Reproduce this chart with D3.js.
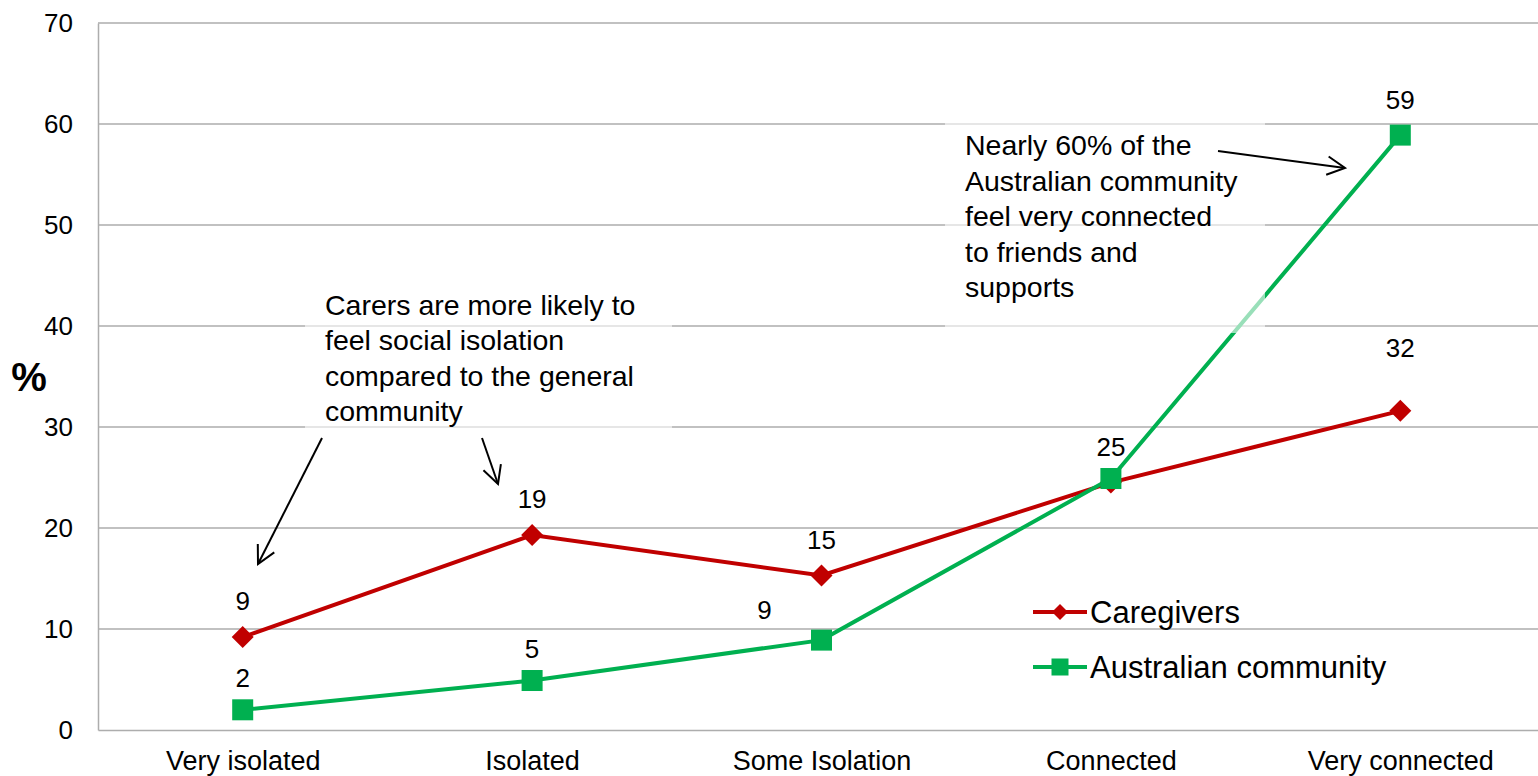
<!DOCTYPE html>
<html>
<head>
<meta charset="utf-8">
<script src="https://cdn.jsdelivr.net/npm/d3@7/dist/d3.min.js"></script>
<style>
  html, body { margin: 0; padding: 0; background: #fff; }
  svg { display: block; font-family: "Liberation Sans", Arial, sans-serif; }
</style>
</head>
<body>
<svg id="chart" width="1538" height="776"></svg>
<script>
// ---- data ----
const categories = ["Very isolated", "Isolated", "Some Isolation", "Connected", "Very connected"];
const caregivers = [9.2, 19.3, 15.3, 24.5, 31.6];
const australian = [2.0, 4.9, 8.9, 24.9, 58.9];
const caregiverLabels = ["9", "19", "15", "", "32"];
const australianLabels = ["2", "5", "9", "25", "59"];
const yTicks = [0, 10, 20, 30, 40, 50, 60, 70];
const seriesNames = ["Caregivers", "Australian community"];
const noteCarers = ["Carers are more likely to", "feel social isolation", "compared to the general", "community"];
const noteAus = ["Nearly 60% of the", "Australian community", "feel very connected", "to friends and", "supports"];

// ---- layout ----
const svg = d3.select("#chart");
const mLeft = 98, mRight = 1545, mTop = 23, mBottom = 730;
const red = "#c00000", green = "#00b050", grid = "#adadad";
const FF = "Liberation Sans, Arial, sans-serif";

const x = d3.scalePoint().domain(categories).range([mLeft, mRight]).padding(0.5);
const y = d3.scaleLinear().domain([0, 70]).range([mBottom, mTop]);

// gridlines
svg.append("g").selectAll("line").data(yTicks.filter(d => d > 0)).join("line")
  .attr("x1", mLeft).attr("x2", mRight)
  .attr("y1", d => y(d)).attr("y2", d => y(d))
  .attr("stroke", grid).attr("stroke-width", 1.5);

// axes
const yAxis = d3.axisLeft(y).tickValues(yTicks).tickSize(0).tickPadding(25);
const gy = svg.append("g").attr("transform", `translate(${mLeft},0)`).call(yAxis);
gy.select(".domain").attr("stroke", grid).attr("stroke-width", 1.5);
gy.selectAll("text").attr("font-size", 26).attr("fill", "#000").attr("font-family", FF);

const xAxis = d3.axisBottom(x).tickSize(0).tickPadding(0);
const gx = svg.append("g").attr("transform", `translate(0,${mBottom})`).call(xAxis);
gx.select(".domain").attr("stroke", grid).attr("stroke-width", 1.5);
gx.selectAll("text").attr("font-size", 27).attr("fill", "#000").attr("dy", null).attr("y", 40)
  .attr("font-family", FF);

// "%" axis title
svg.append("text").attr("x", 29).attr("y", 391).attr("text-anchor", "middle")
  .attr("font-size", 40).attr("font-weight", "bold").text("%");

// lines
const line = d3.line().x((d, i) => x(categories[i])).y(d => y(d));
svg.append("path").datum(caregivers).attr("d", line)
  .attr("fill", "none").attr("stroke", red).attr("stroke-width", 4);
const diamond = s => `M0,${-s}L${s},0L0,${s}L${-s},0Z`;
svg.append("g").selectAll("path").data(caregivers).join("path")
  .attr("transform", (d, i) => `translate(${x(categories[i])},${y(d)})`)
  .attr("d", diamond(11)).attr("fill", red);

svg.append("path").datum(australian).attr("d", line)
  .attr("fill", "none").attr("stroke", green).attr("stroke-width", 4);
svg.append("g").selectAll("rect").data(australian).join("rect")
  .attr("x", (d, i) => x(categories[i]) - 10.5).attr("y", d => y(d) - 10.5)
  .attr("width", 21).attr("height", 21).attr("fill", green);

// data labels
const cgOff = [[0, -27], [0, -27], [0, -26], [0, -25], [0, -54]];
const auOff = [[0, -23], [0, -23], [-57, -21], [0, -23], [0, -26]];
const lab = svg.append("g").attr("font-size", 26).attr("text-anchor", "middle");
caregivers.forEach((v, i) => {
  lab.append("text").attr("x", x(categories[i]) + cgOff[i][0]).attr("y", y(v) + cgOff[i][1]).text(caregiverLabels[i]);
});
australian.forEach((v, i) => {
  lab.append("text").attr("x", x(categories[i]) + auOff[i][0]).attr("y", y(v) + auOff[i][1]).text(australianLabels[i]);
});

// legend
const lg = svg.append("g");
[[red, 612, "d"], [green, 667, "s"]].forEach(([c, ly, m], i) => {
  lg.append("line").attr("x1", 1033).attr("x2", 1087).attr("y1", ly).attr("y2", ly)
    .attr("stroke", c).attr("stroke-width", 4);
  if (m === "d") lg.append("path").attr("transform", `translate(1060,${ly})`).attr("d", diamond(8)).attr("fill", c);
  else lg.append("rect").attr("x", 1051.5).attr("y", ly - 8.5).attr("width", 17).attr("height", 17).attr("fill", c);
  lg.append("text").attr("x", 1090).attr("y", ly + 11).attr("font-size", 31).text(seriesNames[i]);
});

// annotation boxes (semi-transparent white)
svg.append("rect").attr("x", 305).attr("y", 285).attr("width", 367).attr("height", 147)
  .attr("fill", "#fff").attr("opacity", 0.6);
svg.append("rect").attr("x", 945).attr("y", 115).attr("width", 320).attr("height", 218)
  .attr("fill", "#fff").attr("opacity", 0.6);

const t1 = svg.append("text").attr("font-size", 28.5);
noteCarers.forEach((s, i) => t1.append("tspan").attr("x", 325).attr("y", 315 + i * 35.3).text(s));
const t2 = svg.append("text").attr("font-size", 28.5);
noteAus.forEach((s, i) => t2.append("tspan").attr("x", 965).attr("y", 155 + i * 35.5).text(s));

// arrows
function arrow(x1, y1, x2, y2) {
  const a = Math.atan2(y2 - y1, x2 - x1), L = 20, h = 0.48;
  svg.append("line").attr("x1", x1).attr("y1", y1).attr("x2", x2).attr("y2", y2)
    .attr("stroke", "#000").attr("stroke-width", 2);
  const p1 = [x2 - L * Math.cos(a - h), y2 - L * Math.sin(a - h)];
  const p2 = [x2 - L * Math.cos(a + h), y2 - L * Math.sin(a + h)];
  svg.append("path").attr("d", `M${p1}L${x2},${y2}L${p2}`)
    .attr("fill", "none").attr("stroke", "#000").attr("stroke-width", 2);
}
arrow(322, 438, 258, 564);
arrow(482, 438, 498, 484);
arrow(1218, 151, 1345, 168);
</script>
</body>
</html>
